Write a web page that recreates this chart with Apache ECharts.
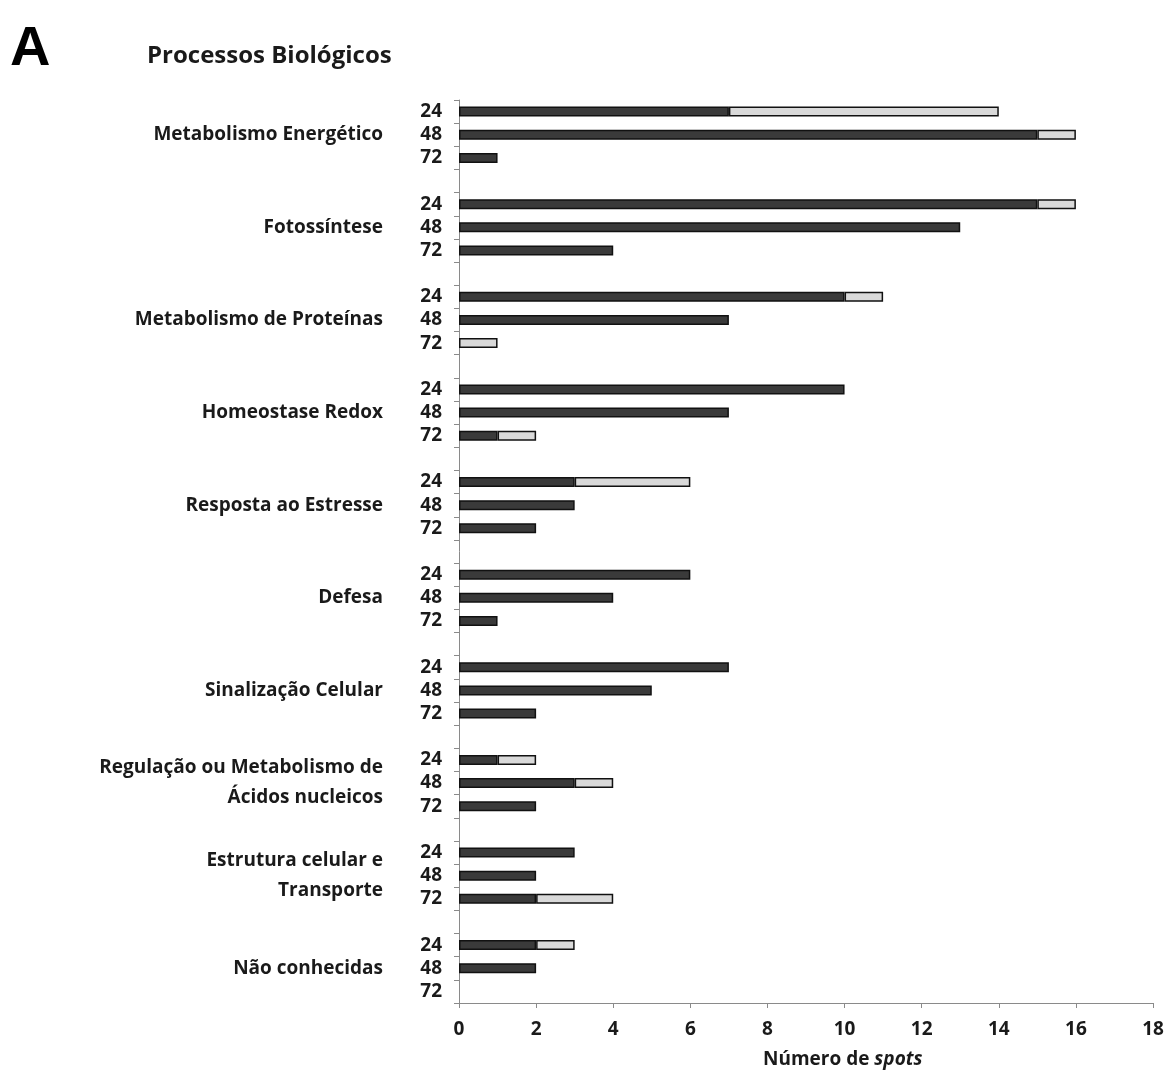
<!DOCTYPE html>
<html>
<head>
<meta charset="utf-8">
<script src="https://cdn.jsdelivr.net/npm/echarts@6/dist/echarts.min.js"></script>
<style>
  html, body { margin: 0; padding: 0; background: #fff; }
  #chart { width: 1168px; height: 1075px; }
</style>
</head>
<body>
<div id="chart"></div>
<script>
// Biological process groups (top to bottom) and the three time points (h)
const groups = [
  'Metabolismo Energético',
  'Fotossíntese',
  'Metabolismo de Proteínas',
  'Homeostase Redox',
  'Resposta ao Estresse',
  'Defesa',
  'Sinalização Celular',
  'Regulação ou Metabolismo de\nÁcidos nucleicos',
  'Estrutura celular e\nTransporte',
  'Não conhecidas'
];
const times = ['24', '48', '72'];

// Number of spots per group, one triple per time point (24, 48, 72)
const darkValues = [
  [7, 15, 1],
  [15, 13, 4],
  [10, 7, 0],
  [10, 7, 1],
  [3, 3, 2],
  [6, 4, 1],
  [7, 5, 2],
  [1, 3, 2],
  [3, 2, 2],
  [2, 2, 0]
];
const lightValues = [
  [7, 1, 0],
  [1, 0, 0],
  [1, 0, 1],
  [0, 0, 1],
  [3, 0, 0],
  [0, 0, 0],
  [0, 0, 0],
  [1, 1, 0],
  [0, 0, 2],
  [1, 0, 0]
];
const xTicks = [0, 2, 4, 6, 8, 10, 12, 14, 16, 18];

// Build rows: three time rows per group, an empty spacer row between groups
const rowTimes = [];
const rowGroups = [];
const darkRows = [];
const lightRows = [];
groups.forEach((g, gi) => {
  times.forEach((t, ti) => {
    rowTimes.push(t);
    rowGroups.push(ti === 1 ? g : '');
    darkRows.push(darkValues[gi][ti] || null);
    lightRows.push(lightValues[gi][ti] || null);
  });
  if (gi < groups.length - 1) {
    rowTimes.push('');
    rowGroups.push('');
    darkRows.push(null);
    lightRows.push(null);
  }
});
const rowIds = rowTimes.map((_, i) => 'r' + i);

const FONT = '"Open Sans", sans-serif';
const WEIGHT = 'bold';
const TEXT = '#1a1a1a';
const chart = echarts.init(document.getElementById('chart'));

chart.setOption({
  animation: false,
  backgroundColor: '#ffffff',
  grid: { left: 459, right: 15, top: 100, bottom: 72, containLabel: false },
  xAxis: {
    type: 'value',
    min: 0,
    max: 18,
    interval: 2,
    splitLine: { show: false },
    axisLine: { show: true, lineStyle: { color: '#8a8a8a', width: 1 } },
    axisTick: { show: true, length: 5, lineStyle: { color: '#8a8a8a' } },
    axisLabel: {
      margin: 17,
      fontFamily: FONT,
      fontSize: 19,
      fontWeight: WEIGHT,
      color: TEXT,
      formatter: v => (xTicks.includes(v) ? String(v) : '')
    }
  },
  yAxis: [
    {
      type: 'category',
      inverse: true,
      data: rowIds,
      axisLine: { show: true, lineStyle: { color: '#8a8a8a', width: 1 } },
      axisTick: { show: true, length: 5, alignWithLabel: false, lineStyle: { color: '#8a8a8a' } },
      axisLabel: {
        interval: 0,
        margin: 17,
        fontFamily: FONT,
        fontSize: 19,
        fontWeight: WEIGHT,
        color: TEXT,
        formatter: (v, i) => rowTimes[i]
      }
    },
    {
      type: 'category',
      inverse: true,
      position: 'left',
      offset: 70,
      data: rowIds,
      axisLine: { show: false },
      axisTick: { show: false },
      axisLabel: {
        interval: 0,
        margin: 6,
        fontFamily: FONT,
        fontSize: 19,
        fontWeight: WEIGHT,
        lineHeight: 30,
        color: TEXT,
        formatter: (v, i) => rowGroups[i]
      }
    }
  ],
  series: [
    {
      type: 'bar',
      stack: 'spots',
      yAxisIndex: 0,
      barWidth: 10,
      data: darkRows,
      itemStyle: { color: '#3a3a3a', borderColor: '#111', borderWidth: 1.5 }
    },
    {
      type: 'bar',
      stack: 'spots',
      yAxisIndex: 0,
      barWidth: 10,
      data: lightRows,
      itemStyle: { color: '#d9d9d9', borderColor: '#111', borderWidth: 1.5 }
    }
  ],
  graphic: [
    {
      type: 'text',
      left: 10,
      top: 22,
      style: { text: 'A', fontFamily: '"Liberation Sans", sans-serif', fontSize: 56, fontWeight: 'bold', fill: '#000' }
    },
    {
      type: 'text',
      left: 147,
      top: 44,
      style: { text: 'Processos Biológicos', fontFamily: FONT, fontSize: 24, fontWeight: 'bold', fill: TEXT }
    },
    {
      type: 'text',
      left: 763,
      top: 1050,
      style: {
        rich: {
          n: { fontFamily: FONT, fontSize: 19, fontWeight: 'bold', fill: TEXT },
          i: { fontFamily: FONT, fontSize: 19, fontWeight: 'bold', fontStyle: 'italic', fill: TEXT }
        },
        text: '{n|Número de }{i|spots}'
      }
    }
  ]
});
</script>
</body>
</html>
